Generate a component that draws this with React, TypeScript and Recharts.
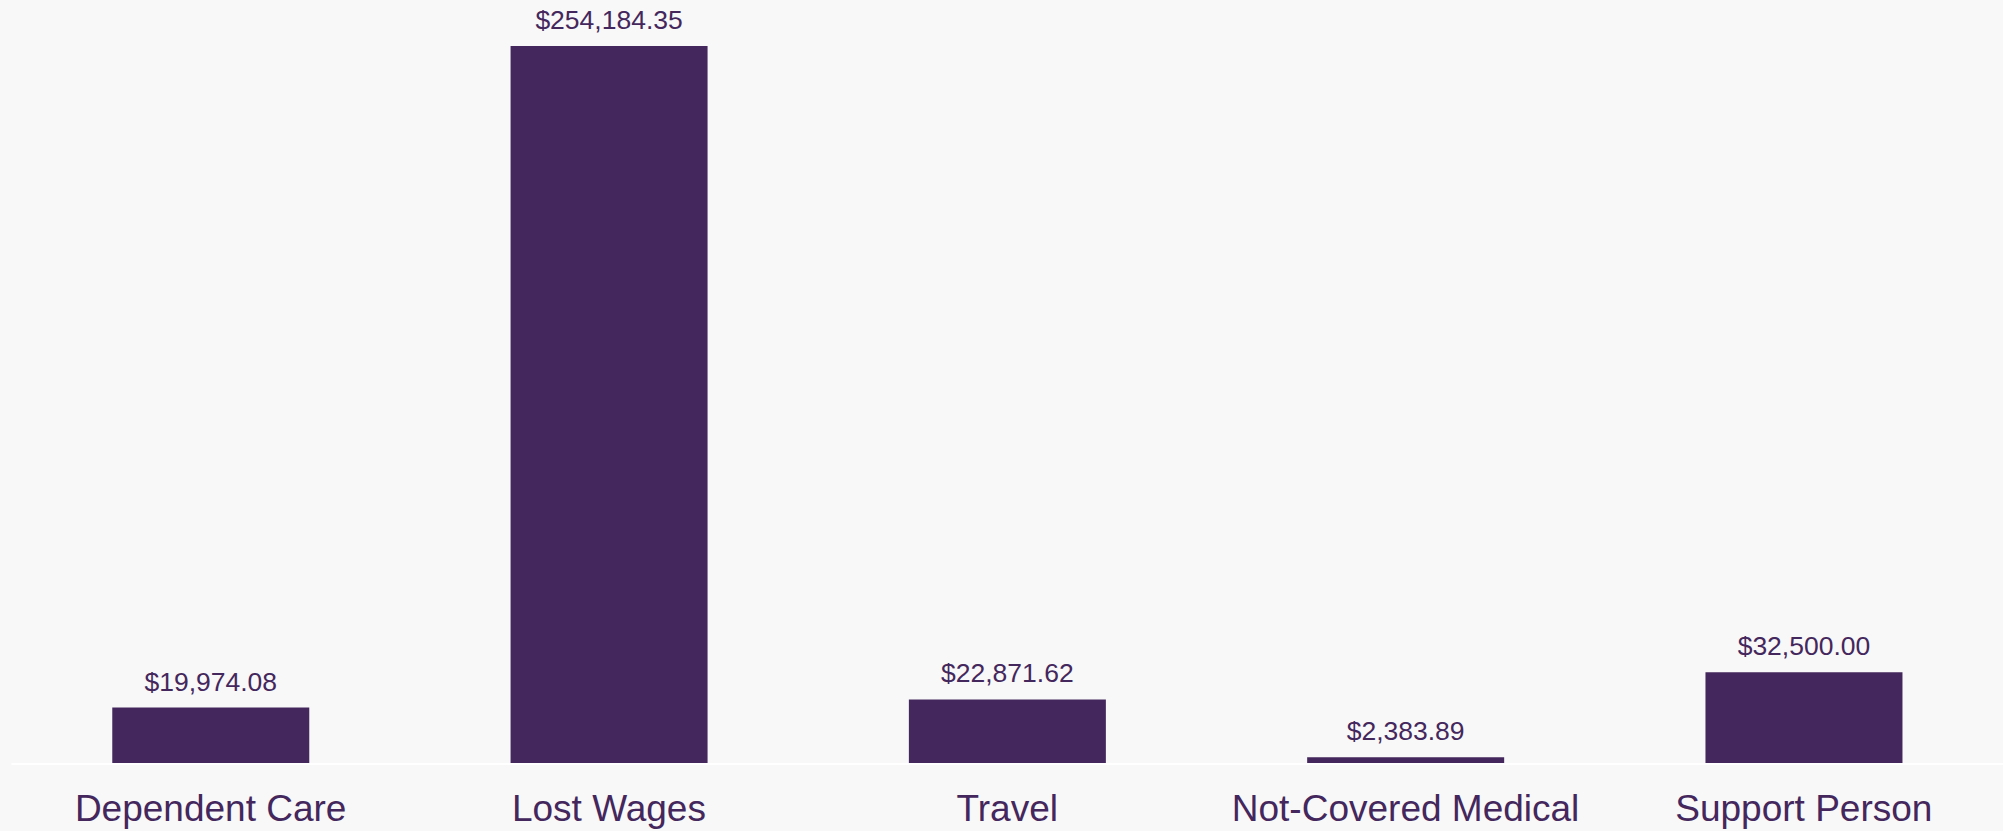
import React from 'react'
import { BarChart, Bar, XAxis, YAxis, LabelList } from 'recharts'

const categories = ['Dependent Care', 'Lost Wages', 'Travel', 'Not-Covered Medical', 'Support Person']
const amounts = [19974.08, 254184.35, 22871.62, 2383.89, 32500.0]

const purple = '#44275c'

const chartData = categories.map((name, i) => ({ name, value: amounts[i] }))

const formatMoney = (v: any) =>
    '$' + Number(v).toLocaleString('en-US', { minimumFractionDigits: 2, maximumFractionDigits: 2 })

export default function App() {
    return (
        <div
            style={{
                position: 'absolute',
                left: 0,
                top: 0,
                width: 2003,
                height: 831,
                background: '#f8f8f8',
                fontFamily: '"Liberation Sans", Arial, sans-serif',
            }}
        >
            <BarChart
                width={2003}
                height={831}
                data={chartData}
                margin={{ top: 46, right: 0, left: 11.5, bottom: 0 }}
                barCategoryGap="25.3%"
            >
                <XAxis
                    dataKey="name"
                    height={67}
                    axisLine={{ stroke: '#ffffff', strokeWidth: 2 }}
                    tickLine={false}
                    tickSize={0}
                    tickMargin={31}
                    interval={0}
                    tick={{ fill: purple, fontSize: 37 }}
                />
                <YAxis hide domain={[0, 'dataMax']} />
                <Bar dataKey="value" fill={purple} isAnimationActive={false}>
                    <LabelList
                        dataKey="value"
                        position="top"
                        offset={17}
                        formatter={formatMoney}
                        style={{ fill: purple, fontSize: 26.5 }}
                    />
                </Bar>
            </BarChart>
        </div>
    )
}
